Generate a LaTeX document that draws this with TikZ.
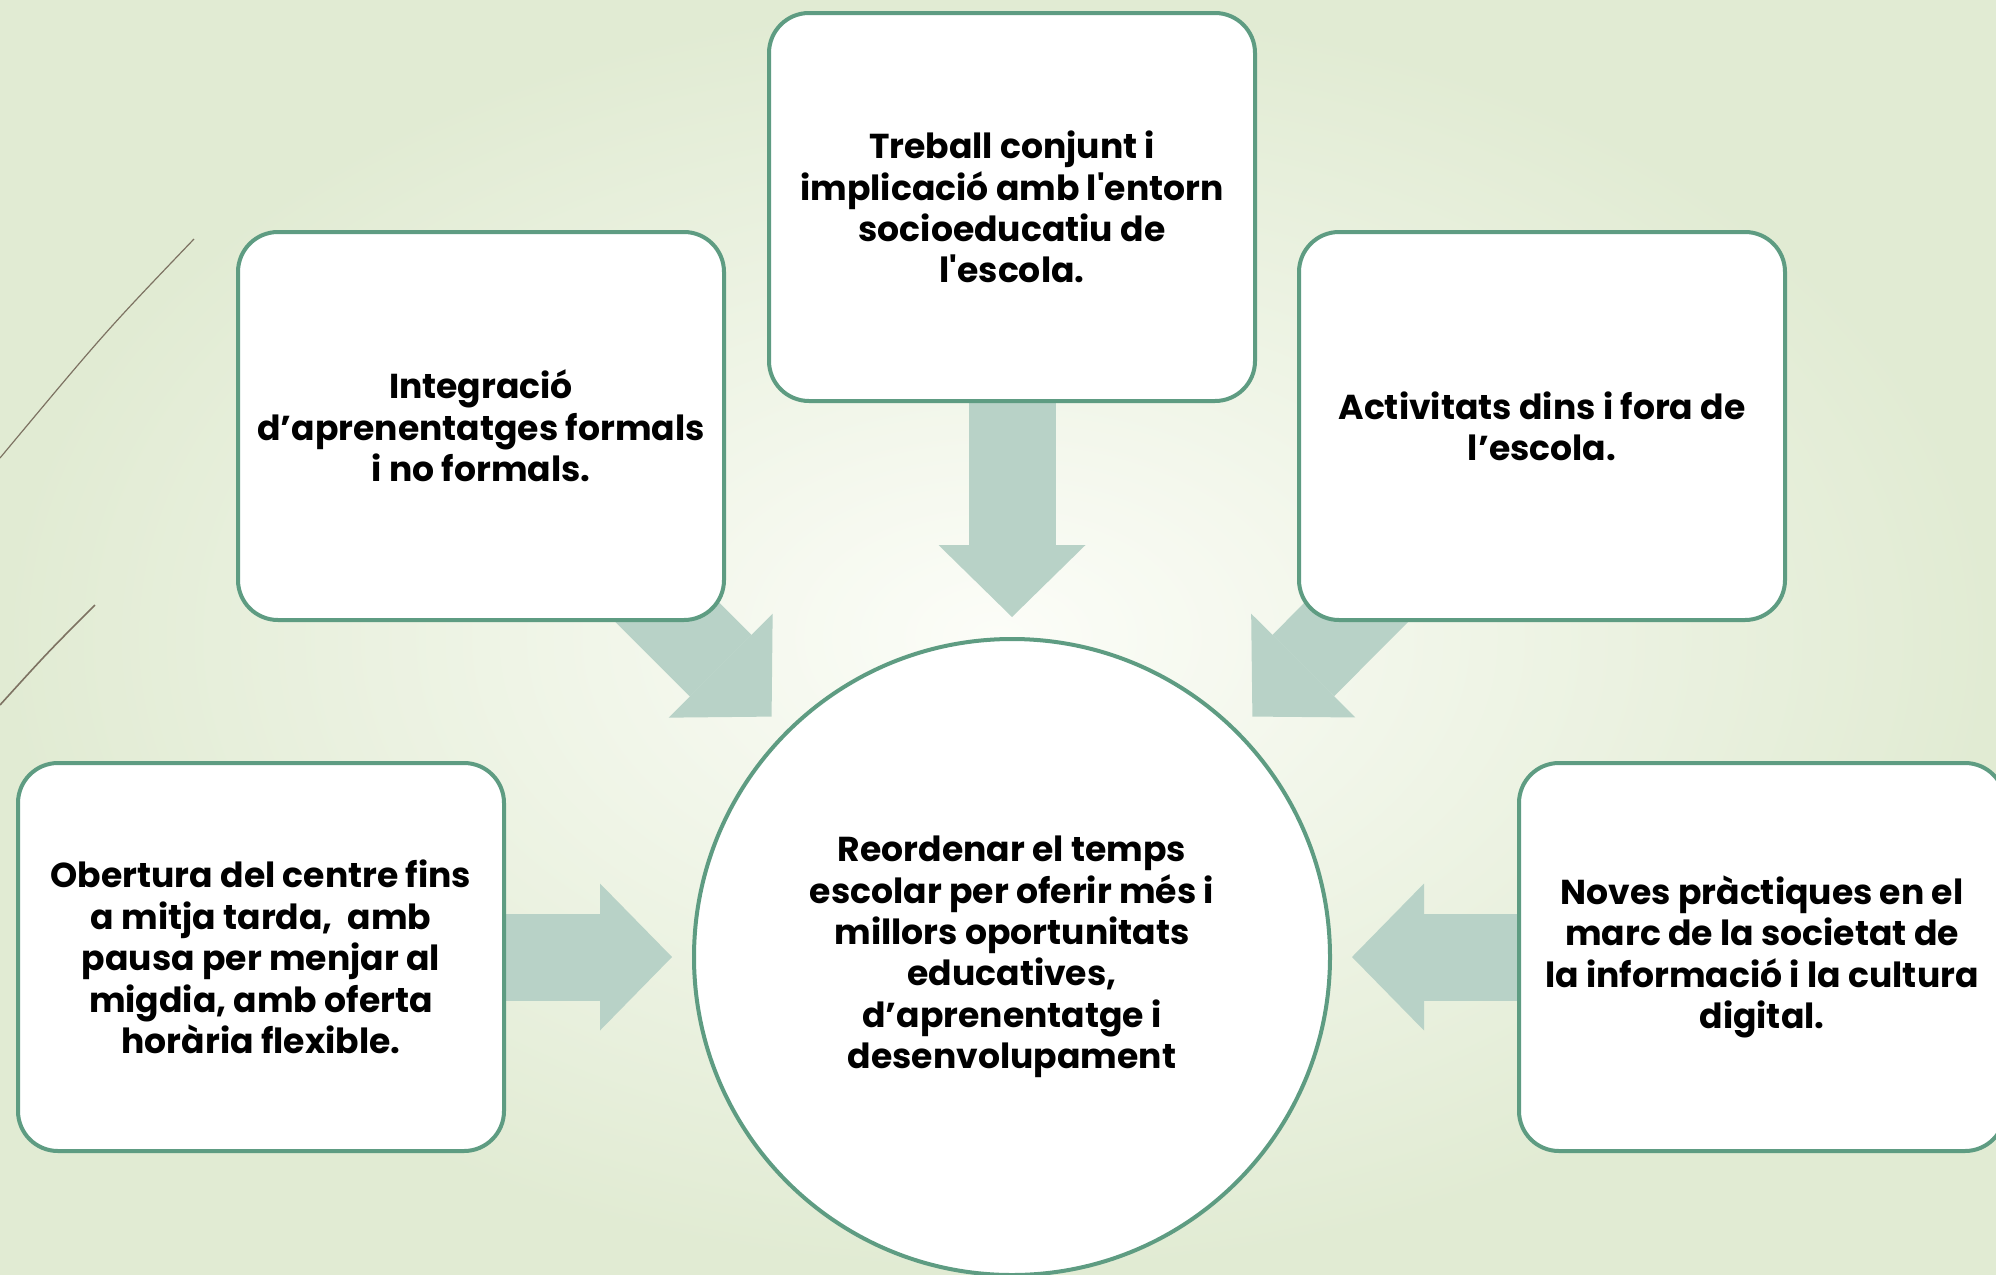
\documentclass[tikz,border=0pt]{standalone}
\usepackage{fontspec}
\setmainfont{Poppins}[Ligatures=TeXOff]
\usetikzlibrary{arrows.meta}
\usetikzlibrary{backgrounds}
\definecolor{boxline}{HTML}{5E9C82}
\definecolor{arrowfill}{HTML}{B8D2C7}
\definecolor{bgedge}{HTML}{E1EBD3}
\definecolor{bgmid}{HTML}{FCFDF8}
\definecolor{stem}{HTML}{7D7262}

\begin{document}
\begin{tikzpicture}[x=0.5pt, y=-0.5pt,
  idea/.style={draw=boxline, line width=2pt, fill=white, rounded corners=20pt,
    minimum width=243pt, minimum height=194pt, align=center,
    font=\bfseries\fontsize{17.3}{20.7}\selectfont},
  hub/.style={circle, draw=boxline, line width=2pt, fill=white, minimum size=318pt,
    align=center, font=\bfseries\fontsize{17.3}{20.7}\selectfont},
  blockarrow/.style={draw=arrowfill, line width=43.5pt,
    -{Triangle[length=36pt, width=73.5pt, line width=0pt]}, shorten >=10pt}]
\useasboundingbox (0,0) rectangle (1996,1274);

\node[hub] (hub) at (1012,957) {Reordenar el temps\\escolar per oferir més i\\millors oportunitats\\educatives,\\d’aprenentatge i\\desenvolupament};
\node[idea] (top) at (1012,207) {Treball conjunt i\\implicació amb l'entorn\\socioeducatiu de\\l'escola.};
\node[idea] (ul) at (481,426) {Integració\\d’aprenentatges formals\\i no formals.};
\node[idea] (ur) at (1542,426) {Activitats dins i fora de\\l’escola.};
\node[idea] (ll) at (261,957) {Obertura del centre fins\\a mitja tarda, \ amb\\pausa per menjar al\\migdia, amb oferta\\horària flexible.};
\node[idea] (lr) at (1762,957) {Noves pràctiques en el\\marc de la societat de\\la informació i la cultura\\digital.};

\begin{scope}[on background layer]
\shade[inner color=bgmid, outer color=bgedge] (0,0) rectangle (1996,1274);
\draw[stem, line width=0.6pt] (194,239) .. controls (105,332) .. (0,458);
\draw[stem, line width=0.8pt] (95,605) .. controls (48,652) .. (0,705);
\foreach \a/\b in {top.south/hub.north, ll.east/hub.west, lr.west/hub.east, ul.center/hub.north west, ur.center/hub.north east}
  \draw[blockarrow] (\a) -- (\b);
\end{scope}
\end{tikzpicture}
\end{document}
